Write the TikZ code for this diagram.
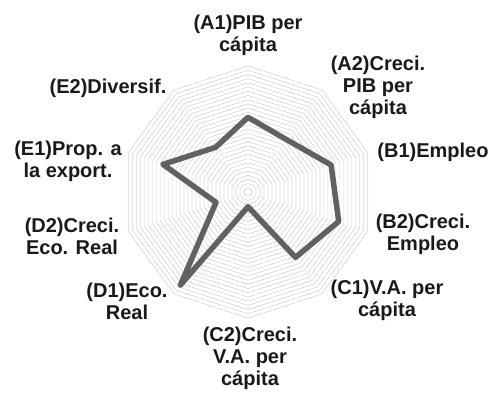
\documentclass[tikz,border=0pt]{standalone}
\usepackage{fontspec}
\setmainfont{Liberation Sans}
\begin{document}
\begin{tikzpicture}[x=1pt,y=1pt,
  gridring/.style={draw=black!15, line width=0.7pt},
  series/.style={draw=black!62, line width=5.5pt, line join=round},
  axislabel/.style={font=\bfseries\fontsize{20}{22}\selectfont, align=center, inner sep=0pt, text=black!90}]
\useasboundingbox (0,0) rectangle (501,-394);
% chart centre
\coordinate (O) at (248,-192);
\begin{scope}[shift={(O)}]
  % concentric decagon grid
  \foreach \k in {1,...,30}{
    \pgfmathsetmacro\r{\k*4.2}
    \draw[gridring] (90:\r) -- (54:\r) -- (18:\r) -- (-18:\r) -- (-54:\r)
      -- (-90:\r) -- (-126:\r) -- (-162:\r) -- (162:\r) -- (126:\r) -- cycle;
  }
  % data points on the ten axes
  \coordinate (pA1) at (90:74.7);
  \coordinate (pA2) at (54:65);
  \coordinate (pB1) at (18:87.4);
  \coordinate (pB2) at (-18:95.4);
  \coordinate (pC1) at (-54:80.8);
  \coordinate (pC2) at (-90:14.7);
  \coordinate (pD1) at (-126:115);
  \coordinate (pD2) at (-162:33.6);
  \coordinate (pE1) at (162:89.4);
  \coordinate (pE2) at (126:55.2);
\end{scope}
\draw[series] (pA1) -- (pA2) -- (pB1) -- (pB2) -- (pC1) -- (pC2)
  -- (pD1) -- (pD2) -- (pE1) -- (pE2) -- cycle;
% axis labels
\node[axislabel] (lA1) at (248,-35) {(A1)PIB per\\cápita};
\node[axislabel] (lA2) at (378,-87) {(A2)Creci.\\PIB per\\cápita};
\node[axislabel] (lB1) at (433,-152) {(B1)Empleo};
\node[axislabel] (lB2) at (423,-234) {(B2)Creci.\\Empleo};
\node[axislabel] (lC1) at (387,-300) {(C1)V.A. per\\cápita};
\node[axislabel] (lC2) at (250,-358) {(C2)Creci.\\V.A. per\\cápita};
\node[axislabel] (lD1) at (127,-301) {(D1)Eco.\\Real};
\node[axislabel] (lD2) at (72,-236) {(D2)Creci.\\Eco. Real};
\node[axislabel] (lE1) at (68,-161) {(E1)Prop. a\\la export.};
\node[axislabel] (lE2) at (108,-88) {(E2)Diversif.};
\end{tikzpicture}
\end{document}
